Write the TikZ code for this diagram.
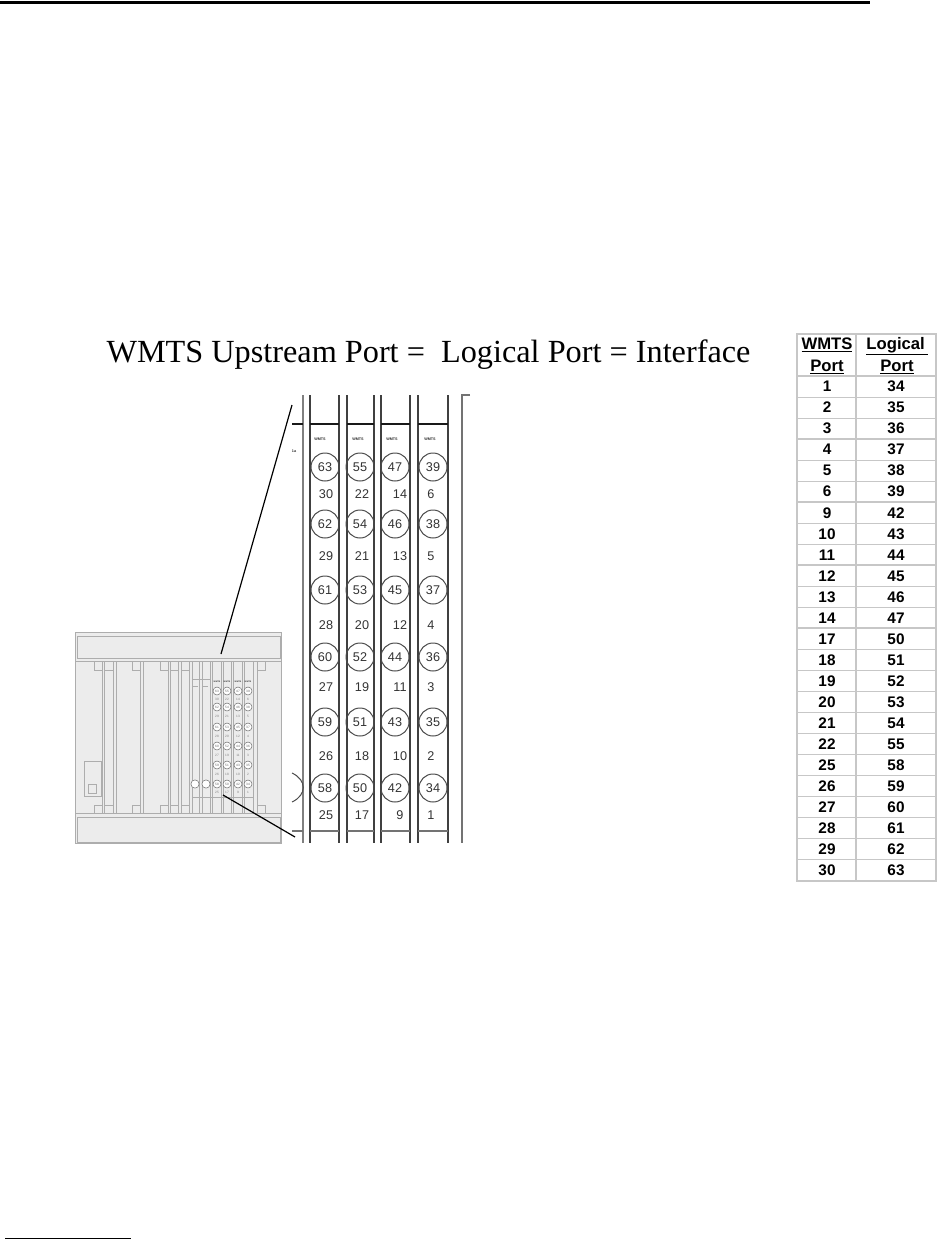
\documentclass[tikz,border=0pt]{standalone}
\usepackage{fontspec}
\setmainfont{Liberation Serif}
\newfontfamily\portfont{Liberation Sans}

\definecolor{chassisgrey}{gray}{0.925}
\definecolor{slotgrey}{gray}{0.68}
\definecolor{tablegrey}{gray}{0.78}
\tikzset{
  slotline/.style={draw=slotgrey,line width=0.65pt},
  portcirc/.style={circle,draw=black!70,line width=0.75pt,minimum size=21pt,inner sep=0pt,font=\portfont\fontsize{9.5}{10}\selectfont,text=black!80},
  portnum/.style={inner sep=0pt,font=\portfont\fontsize{9.5}{10}\selectfont,text=black!80},
  minicirc/.style={circle,draw=black!55,line width=0.4pt,fill=white,minimum size=6pt,inner sep=0pt,font=\portfont\fontsize{2.4}{3}\selectfont,text=black!60},
  mininum/.style={inner sep=0pt,font=\portfont\fontsize{2.4}{3}\selectfont,text=black!50},
  cardtag/.style={inner sep=0pt,font=\portfont\bfseries\fontsize{2.8}{3}\selectfont,text=black!80},
  tabhead/.style={anchor=base,inner sep=0pt,font=\portfont\bfseries\fontsize{12.5}{13}\selectfont},
  tabcell/.style={inner sep=0pt,font=\portfont\bfseries\fontsize{11.5}{12}\selectfont}
}

\begin{document}
\begin{tikzpicture}[x=0.75pt,y=-0.75pt,line width=0.75pt]
  \useasboundingbox (0,0) rectangle (939,1244);

  \draw[line width=2.25pt] (0,3) -- (870,3);
  \draw (5,1238) -- (131,1238);

  \node[inner sep=0pt,font=\fontsize{24.2}{26}\selectfont] (title) at (428.5,355) {WMTS Upstream Port =\ \ Logical Port = Interface};

  % chassis
  \fill[chassisgrey] (75,632) rectangle (281,843);
  \draw[slotline] (75,632) rectangle (281,843);
  \draw[slotline] (77,636) rectangle (280,658);
  \draw[slotline] (75,661) -- (281,661);
  \draw[slotline] (75,813) -- (281,813);
  \draw[slotline] (77,817) rectangle (280,842);
  \foreach \xl/\xr in {104/113,116/140,143/168,170/178,181/189,192/199,202/210,212/221,223/231,233/242,244/253}
    \draw[slotline] (\xl,661) -- (\xl,813) (\xr,661) -- (\xr,813);
  \draw[slotline] (102,661) -- (102,813);
  \draw[slotline] (257,661) -- (257,813);
  \foreach \xl/\xr in {94/102,104/113,132/140,160/168,170/178,181/189,257/265} {
    \draw[slotline] (\xl,661) rectangle (\xr,670);
    \draw[slotline] (\xl,805) rectangle (\xr,813);
  }
  \draw[slotline] (192,679) -- (210,679);
  \draw[slotline] (192,686) -- (198,686) (202,686) -- (208,686);
  \draw[slotline] (192,797) -- (253,797);
  \draw[slotline] (84,761) rectangle (101,796);
  \draw[slotline] (88,784) rectangle (96,793);
  \node[minicirc,minimum size=6.2pt] (blanka) at (195,784) {};
  \node[minicirc,minimum size=6.2pt] (blankb) at (206,784) {};

  \foreach \cx/\top/\low in {217/63/30,227/55/22,238/47/14,248/39/6} {
    \node[cardtag,font=\portfont\bfseries\fontsize{1.6}{2}\selectfont] (mtag\top) at (\cx,682) {WMTS};
    \foreach \r/\yc/\yl in {0/691/699,1/707/716,2/727/736,3/746/755,4/765/774,5/784/792} {
      \pgfmathtruncatemacro\numc{\top-\r}
      \pgfmathtruncatemacro\numl{\low-\r}
      \node[minicirc] (mc\numc) at (\cx,\yc) {\numc};
      \node[mininum] (ml\numl) at (\cx,\yl) {\numl};
    }
  }

  % enlarged cards
  \foreach \x in {310,339,347,374,381,410,418,448}
    \draw[line width=0.9pt,black!75] (\x,395) -- (\x,843);
  \draw[line width=1.1pt,black!50] (303,395) -- (303,843);
  \draw[line width=0.9pt,black!55] (470,395) -- (462,395) -- (462,843);
  \foreach \xl/\xr in {292/303,310/339,347/374,381/410,418/448} {
    \draw[line width=0.9pt,black!90] (\xl,424) -- (\xr,424);
    \draw[line width=1.1pt,black!55] (\xl,831) -- (\xr,831);
  }
  \foreach \cx/\lx/\tx/\top/\low in {325/326/320/63/30,360/362/358/55/22,395/400/392/47/14,433/431/430/39/6} {
    \node[cardtag] (tag\top) at (\tx,439) {WMTS};
    \foreach \r/\yc/\yl in {0/467/494,1/524/556,2/590/625,3/657/687,4/722/756,5/788/815} {
      \pgfmathtruncatemacro\numc{\top-\r}
      \pgfmathtruncatemacro\numl{\low-\r}
      \node[portcirc] (pc\numc) at (\cx,\yc) {\numc};
      \node[portnum] (pl\numl) at (\lx,\yl) {\numl};
    }
  }
  \node[cardtag] (stray) at (294,451) {1a};
  \draw[line width=0.75pt,black!70] (292,773) .. controls (307,780) and (307,795) .. (292,802);

  % callout lines
  \coordinate (upfrom) at (292,405);
  \coordinate (upto) at (221,654);
  \coordinate (downfrom) at (223,795);
  \coordinate (downto) at (295,837);
  \draw[line width=0.9pt] (upfrom) -- (upto);
  \draw[line width=0.9pt] (downfrom) -- (downto);

  % port table
  \draw[tablegrey,line width=0.9pt] (797,334) rectangle (936,881);
  \draw[tablegrey,line width=0.9pt] (856,334) -- (856,881);
  \draw[tablegrey,line width=1.6pt] (797,376) -- (936,376);
  \node[tabhead] (hwa) at (827,349) {\underline{WMTS}};
  \node[tabhead] (hwb) at (827,371) {\underline{Port}};
  \node[tabhead] (hla) at (897,349) {\underline{Logical\,}};
  \node[tabhead] (hlb) at (897,371) {\underline{Port}};
  \foreach \wp/\lp [count=\k from 0] in {1/34,2/35,3/36,4/37,5/38,6/39,9/42,10/43,11/44,12/45,13/46,14/47,17/50,18/51,19/52,20/53,21/54,22/55,25/58,26/59,27/60,28/61,29/62,30/63} {
    \pgfmathsetmacro\yr{386.5+21.04*\k}
    \node[tabcell] (wp\wp) at (827,\yr) {\wp};
    \node[tabcell] (lp\lp) at (896,\yr) {\lp};
    \pgfmathsetmacro\yb{376+21.04*(\k+1)}
    \ifnum\k<23 \draw[tablegrey,line width=0.8pt] (797,\yb) -- (936,\yb); \fi
  }
  \foreach \yb in {439,502,565,628}
    \draw[tablegrey,line width=1.6pt] (797,\yb) -- (936,\yb);
\end{tikzpicture}
\end{document}
